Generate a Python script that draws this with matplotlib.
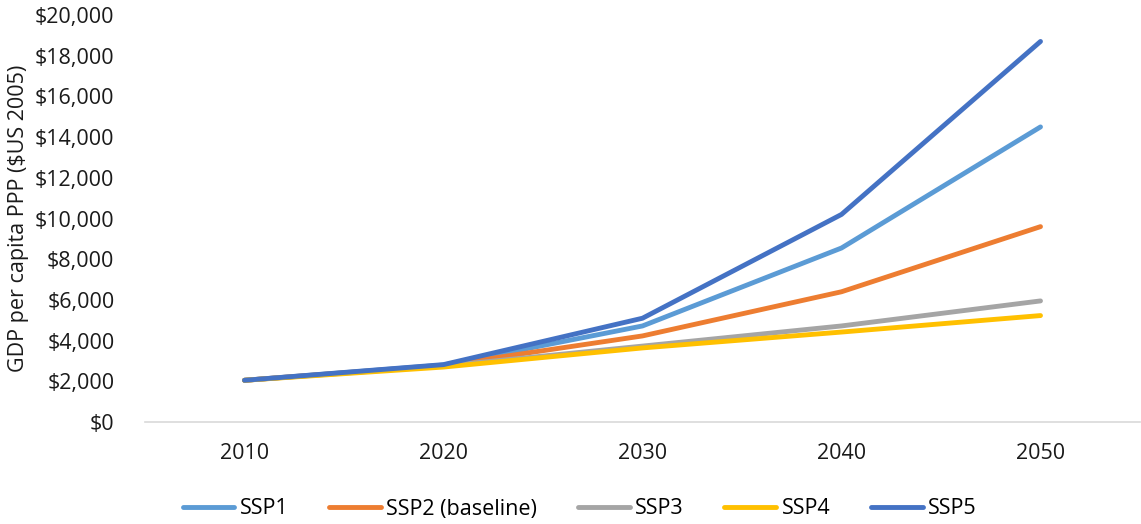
import matplotlib
matplotlib.use("Agg")
import matplotlib.pyplot as plt
from matplotlib.ticker import FuncFormatter, MultipleLocator

plt.rcParams['font.family'] = ['Open Sans', 'DejaVu Sans']

years = ["2010", "2020", "2030", "2040", "2050"]
ssp1 = [2050, 2800, 4720, 8550, 14500]
ssp2 = [2050, 2780, 4230, 6400, 9600]
ssp3 = [2050, 2750, 3730, 4720, 5950]
ssp4 = [2050, 2700, 3640, 4420, 5230]
ssp5 = [2050, 2820, 5100, 10200, 18700]

series = [
    ("SSP1", ssp1, "#5B9BD5"),
    ("SSP2 (baseline)", ssp2, "#ED7D31"),
    ("SSP3", ssp3, "#A5A5A5"),
    ("SSP4", ssp4, "#FFC000"),
    ("SSP5", ssp5, "#4472C4"),
]

FS = 15.5
fig = plt.figure(figsize=(11.41, 5.24), dpi=100)
ax = fig.add_axes([145 / 1141, 102 / 524, 995 / 1141, 407 / 524])

x = list(range(len(years)))
for name, vals, color in series:
    ax.plot(x, vals, color=color, lw=3.5, solid_capstyle="round",
            solid_joinstyle="round", label=name)

ax.set_xlim(-0.5, len(years) - 0.5)
ax.set_ylim(0, 20000)
ax.yaxis.set_major_locator(MultipleLocator(2000))
ax.yaxis.set_major_formatter(FuncFormatter(lambda v, p: f"${v:,.0f}"))
ax.set_xticks(x)
ax.set_xticklabels(years)

for side in ("top", "right", "left"):
    ax.spines[side].set_visible(False)
ax.spines["bottom"].set_color("#D9D9D9")
ax.spines["bottom"].set_linewidth(1.2)
ax.tick_params(axis="both", length=0, labelsize=FS, colors="#1a1a1a")
ax.tick_params(axis="y", pad=22)
ax.tick_params(axis="x", pad=15)

ax.set_ylabel("GDP per capita PPP ($US 2005)", fontsize=FS, color="#1a1a1a", labelpad=4)

leg = fig.legend(loc="center", bbox_to_anchor=(0.508, 15 / 524), ncol=5, frameon=False,
                 fontsize=FS, handlelength=2.4, handletextpad=0.25, columnspacing=1.9)

fig.savefig("out.png", dpi=100)
